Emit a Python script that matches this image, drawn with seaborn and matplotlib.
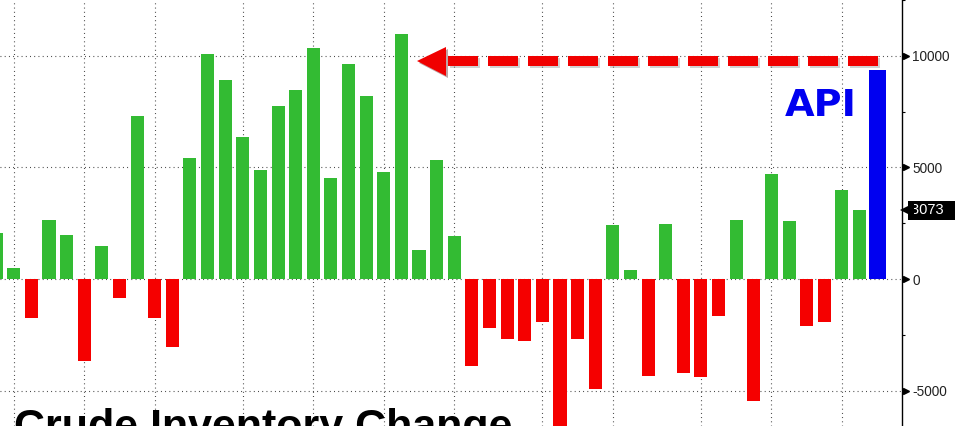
import numpy as np
import pandas as pd
import seaborn as sns
import matplotlib.pyplot as plt
import matplotlib.patheffects as pe
from matplotlib.transforms import offset_copy

# weekly crude inventory change (thousand barrels), oldest first
weeks = list(range(50))
changes = [
    2046, 506, -1733, 2642, 1970, -3659, 1478, -837, 7300, -1733,
    -3032, 5418, 10076, 8912, 6373, 4881, 7747, 8464, 10345, 4523,
    9628, 8195, 4792, 10972, 1299, 5329, 1926, -3883, -2181, -2674,
    -2763, -1912, -7200, -2674, -4913, 2418, 403, -4330, 2463, -4196,
    -4375, -1644, 2642, -5450, 4702, 2611, -2091, -1912, 3986, 3073,
]
api_week = [50]
api_change = [9360]

month_starts = [1, 5, 9, 14, 18, 22, 26, 31, 35, 40, 44, 48]
y_major = [-5000, 0, 5000, 10000]
record_level = 9763

GREEN = "#33bb33"
RED = "#f50000"
BLUE = "#0000f0"

df = pd.DataFrame({"week": weeks, "change": changes})
df["kind"] = np.where(df["change"] >= 0, "build", "draw")

sns.set_style("white")
plt.rcParams["font.family"] = ["Liberation Sans", "DejaVu Sans"]

fig = plt.figure(figsize=(9.55, 4.26), dpi=100)
ax = fig.add_axes([0, 0, 902 / 955, 1])

sns.barplot(data=df, x="week", y="change", hue="kind",
            palette={"build": GREEN, "draw": RED}, native_scale=True,
            dodge=False, width=0.74, linewidth=0, errorbar=None,
            saturation=1, legend=False, ax=ax, zorder=2)
sns.barplot(x=api_week, y=api_change, color=BLUE, native_scale=True,
            width=0.95, linewidth=0, errorbar=None, saturation=1,
            ax=ax, zorder=2)

ax.set_xlim(0.22, 51.41)
ax.set_ylim(-6583, 12494)
ax.set_xlabel("")
ax.set_ylabel("")

# monthly vertical grid, horizontal grid at major ticks
ax.set_xticks(month_starts)
ax.set_xticklabels([])
ax.tick_params(axis="x", length=0)
ax.yaxis.tick_right()
ax.set_yticks(y_major)
ax.set_yticks(np.arange(-5000, 12501, 2500), minor=True)
ax.set_yticklabels([str(v) for v in y_major])
ax.tick_params(axis="y", which="major", direction="out", length=0,
               pad=7.5, labelsize=9.8, labelcolor="#222222")
ax.tick_params(axis="y", which="minor", direction="out", length=2.5,
               width=0.8, color="black")
ax.grid(True, which="major", color="#333333", linewidth=0.8,
        linestyle=(0, (0.8, 3.0)), zorder=0)
ax.set_axisbelow(True)

for side in ["left", "top", "bottom"]:
    ax.spines[side].set_visible(False)
ax.spines["right"].set_color("black")
ax.spines["right"].set_linewidth(1)

# small triangular markers for the major ticks
tick_tr = offset_copy(ax.get_yaxis_transform(), fig=fig, x=3.0, units="points")
ax.plot([1.0] * len(y_major), y_major, linestyle="none", marker=">",
        markersize=4.5, color="black", transform=tick_tr, clip_on=False)

# latest value tag
last_tr = offset_copy(ax.get_yaxis_transform(), fig=fig, x=6.5, units="points")
ax.text(1.0, changes[-1], f"{changes[-1]}      ", transform=last_tr,
        ha="left", va="center", color="white", fontsize=10.5,
        bbox=dict(boxstyle="square,pad=0.18", fc="black", ec="none"),
        clip_on=False, zorder=5)
caret_tr = offset_copy(ax.get_yaxis_transform(), fig=fig, x=3.4, units="points")
ax.plot([1.0], [changes[-1]], marker="<", markersize=10, color="black",
        markeredgewidth=0, transform=caret_tr, clip_on=False, zorder=5)

# dashed arrow pointing back to the record build
shadow = [pe.SimpleLineShadow(offset=(1.5, -1.5), shadow_color="gray", alpha=0.35),
          pe.Normal()]
ax.plot([25.66, 50.35], [record_level, record_level], color="#f00000",
        linewidth=7.2, dashes=(3.0, 1.0), solid_capstyle="butt",
        dash_capstyle="butt", path_effects=shadow, zorder=4)
ax.plot([24.70], [record_level], marker="<", markersize=21, color="#f00000",
        markeredgewidth=0, zorder=4,
        path_effects=[pe.SimplePatchShadow(offset=(1.5, -1.5), alpha=0.35),
                      pe.Normal()])

ax.text(46.79, 7300, "API", color=BLUE, fontsize=27.5, fontweight="bold",
        family="DejaVu Sans", ha="center", va="baseline", zorder=5)

fig.text(13.5 / 955, -13 / 426, "Crude Inventory Change", fontsize=31,
         fontweight="bold", color="black", ha="left", va="baseline")

fig.savefig("out.png", dpi=100)
